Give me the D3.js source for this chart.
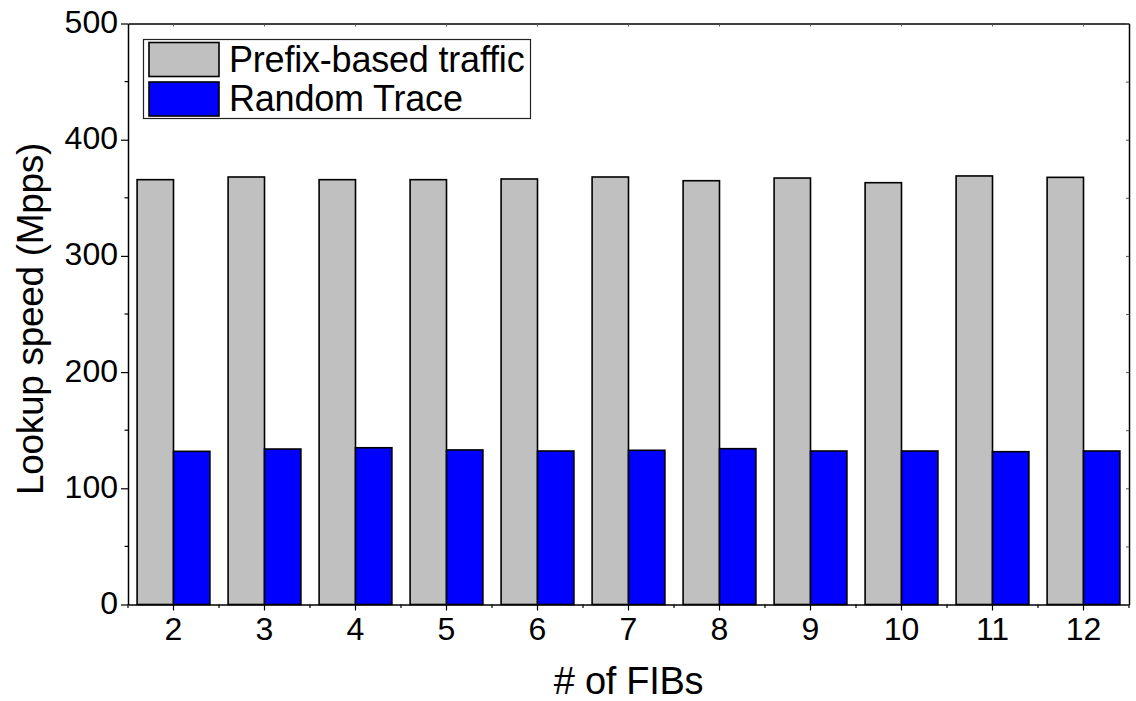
<!DOCTYPE html>
<html>
<head>
<meta charset="utf-8">
<script src="https://cdn.jsdelivr.net/npm/d3@7"></script>
<style>
  html, body { margin: 0; padding: 0; background: #fff; }
  svg { display: block; }
  text { font-family: "Liberation Sans", Arial, sans-serif; fill: #000; }
</style>
</head>
<body>
<svg id="chart" width="1136" height="701"></svg>
<script>
// ---- data ----
const categories = ["2", "3", "4", "5", "6", "7", "8", "9", "10", "11", "12"];
const seriesNames = ["Prefix-based traffic", "Random Trace"];
const prefixValues = [365.6, 367.9, 365.6, 365.6, 366.2, 367.9, 364.7, 367.0, 363.0, 368.8, 367.6];
const randomValues = [131.8, 133.8, 134.9, 133.0, 132.1, 132.7, 134.1, 132.1, 132.1, 131.5, 132.1];
const seriesColors = ["#c0c0c0", "#0000ff"];
const yTicks = [0, 100, 200, 300, 400, 500];
const yMinorTicks = [50, 150, 250, 350, 450];
const xLabel = "# of FIBs";
const yLabel = "Lookup speed (Mpps)";

// ---- layout ----
const W = 1136, H = 701;
const pL = 128, pR = 1129, pT = 23.5, pB = 604.5;

const svg = d3.select("#chart");

const x = d3.scaleBand().domain(categories).range([pL, pR])
  .paddingInner(0.2).paddingOuter(0.1);
const xs = d3.scaleBand().domain(d3.range(seriesNames.length)).range([0, x.bandwidth()]);
const y = d3.scaleLinear().domain([0, 500]).range([pB, pT]);

const series = [prefixValues, randomValues];
const rows = categories.map((c, i) => ({ cat: c, vals: series.map(s => s[i]) }));

// bars
const g = svg.append("g");
const groups = g.selectAll("g.cat").data(rows).join("g")
  .attr("class", "cat")
  .attr("transform", d => `translate(${x(d.cat)},0)`);
groups.selectAll("rect").data(d => d.vals.map((v, k) => ({ v, k }))).join("rect")
  .attr("x", d => xs(d.k))
  .attr("width", xs.bandwidth())
  .attr("y", d => y(d.v))
  .attr("height", d => y(0) - y(d.v))
  .attr("fill", d => seriesColors[d.k])
  .attr("stroke", "#000")
  .attr("stroke-width", 1.6);

// minor boundaries for x
const step = x.step();
const boundaries = d3.range(categories.length + 1).map(i => pL + i * step);

const axisColor = "#000";
// bottom axis
const bAxis = svg.append("g").attr("transform", `translate(0,${pB})`)
  .call(d3.axisBottom(x).tickSize(6).tickPadding(6).tickSizeOuter(0));
bAxis.select(".domain").attr("stroke", axisColor).attr("stroke-width", 1.5);
bAxis.selectAll(".tick line").attr("stroke-width", 1.2);
bAxis.selectAll(".tick text").attr("font-size", 32).attr("font-family", "Liberation Sans, Arial, sans-serif").attr("dy", "0.72em").attr("y", 12.5);
svg.append("g").selectAll("line").data(boundaries).join("line")
  .attr("x1", d => d).attr("x2", d => d)
  .attr("y1", pB).attr("y2", pB + 3.5)
  .attr("stroke", "#000").attr("stroke-width", 1.2);

// left axis
const lAxis = svg.append("g").attr("transform", `translate(${pL},0)`)
  .call(d3.axisLeft(y).tickValues(yTicks).tickSize(7).tickPadding(3).tickSizeOuter(0));
lAxis.select(".domain").attr("stroke", axisColor).attr("stroke-width", 1.5);
lAxis.selectAll(".tick line").attr("stroke-width", 1.2);
lAxis.selectAll(".tick text").attr("font-size", 32).attr("font-family", "Liberation Sans, Arial, sans-serif").attr("dy", "0.28em");
svg.append("g").selectAll("line").data(yMinorTicks).join("line")
  .attr("x1", pL - 3.5).attr("x2", pL)
  .attr("y1", d => y(d)).attr("y2", d => y(d))
  .attr("stroke", "#000").attr("stroke-width", 1.2);

// top axis (inward ticks)
const tAxis = svg.append("g").attr("transform", `translate(0,${pT})`)
  .call(d3.axisTop(x).tickSize(-3).tickFormat("").tickSizeOuter(0));
tAxis.select(".domain").attr("stroke", axisColor).attr("stroke-width", 1.5);
tAxis.selectAll(".tick line").attr("stroke", "#555");

// right axis (inward ticks)
const rAxis = svg.append("g").attr("transform", `translate(${pR},0)`)
  .call(d3.axisRight(y).tickValues(yTicks.concat(yMinorTicks)).tickSize(-3).tickFormat("").tickSizeOuter(0));
rAxis.select(".domain").attr("stroke", axisColor).attr("stroke-width", 1.5);
rAxis.selectAll(".tick line").attr("stroke", "#555");

// axis titles
svg.append("text")
  .attr("x", (pL + pR) / 2).attr("y", 694)
  .attr("text-anchor", "middle").attr("font-size", 38)
  .attr("letter-spacing", "-0.3")
  .text(xLabel);
svg.append("text")
  .attr("transform", `translate(43,319) rotate(-90)`)
  .attr("text-anchor", "middle").attr("font-size", 37)
  .attr("letter-spacing", "-0.3")
  .text(yLabel);

// legend
const lg = svg.append("g");
const lgX = 143.5, lgY = 39.5, lgW = 387, lgH = 79;
lg.append("rect").attr("x", lgX).attr("y", lgY).attr("width", lgW).attr("height", lgH)
  .attr("fill", "#fff").attr("stroke", "#222").attr("stroke-width", 1.2);
seriesNames.forEach((name, k) => {
  const yy = lgY + 3 + k * 39.5;
  lg.append("rect").attr("x", 149).attr("y", yy).attr("width", 70).attr("height", 34)
    .attr("fill", seriesColors[k]).attr("stroke", "#000").attr("stroke-width", 1.6);
  lg.append("text").attr("x", 229).attr("y", yy + 29)
    .attr("font-size", 36).attr("letter-spacing", "-0.2").text(name);
});
</script>
</body>
</html>
